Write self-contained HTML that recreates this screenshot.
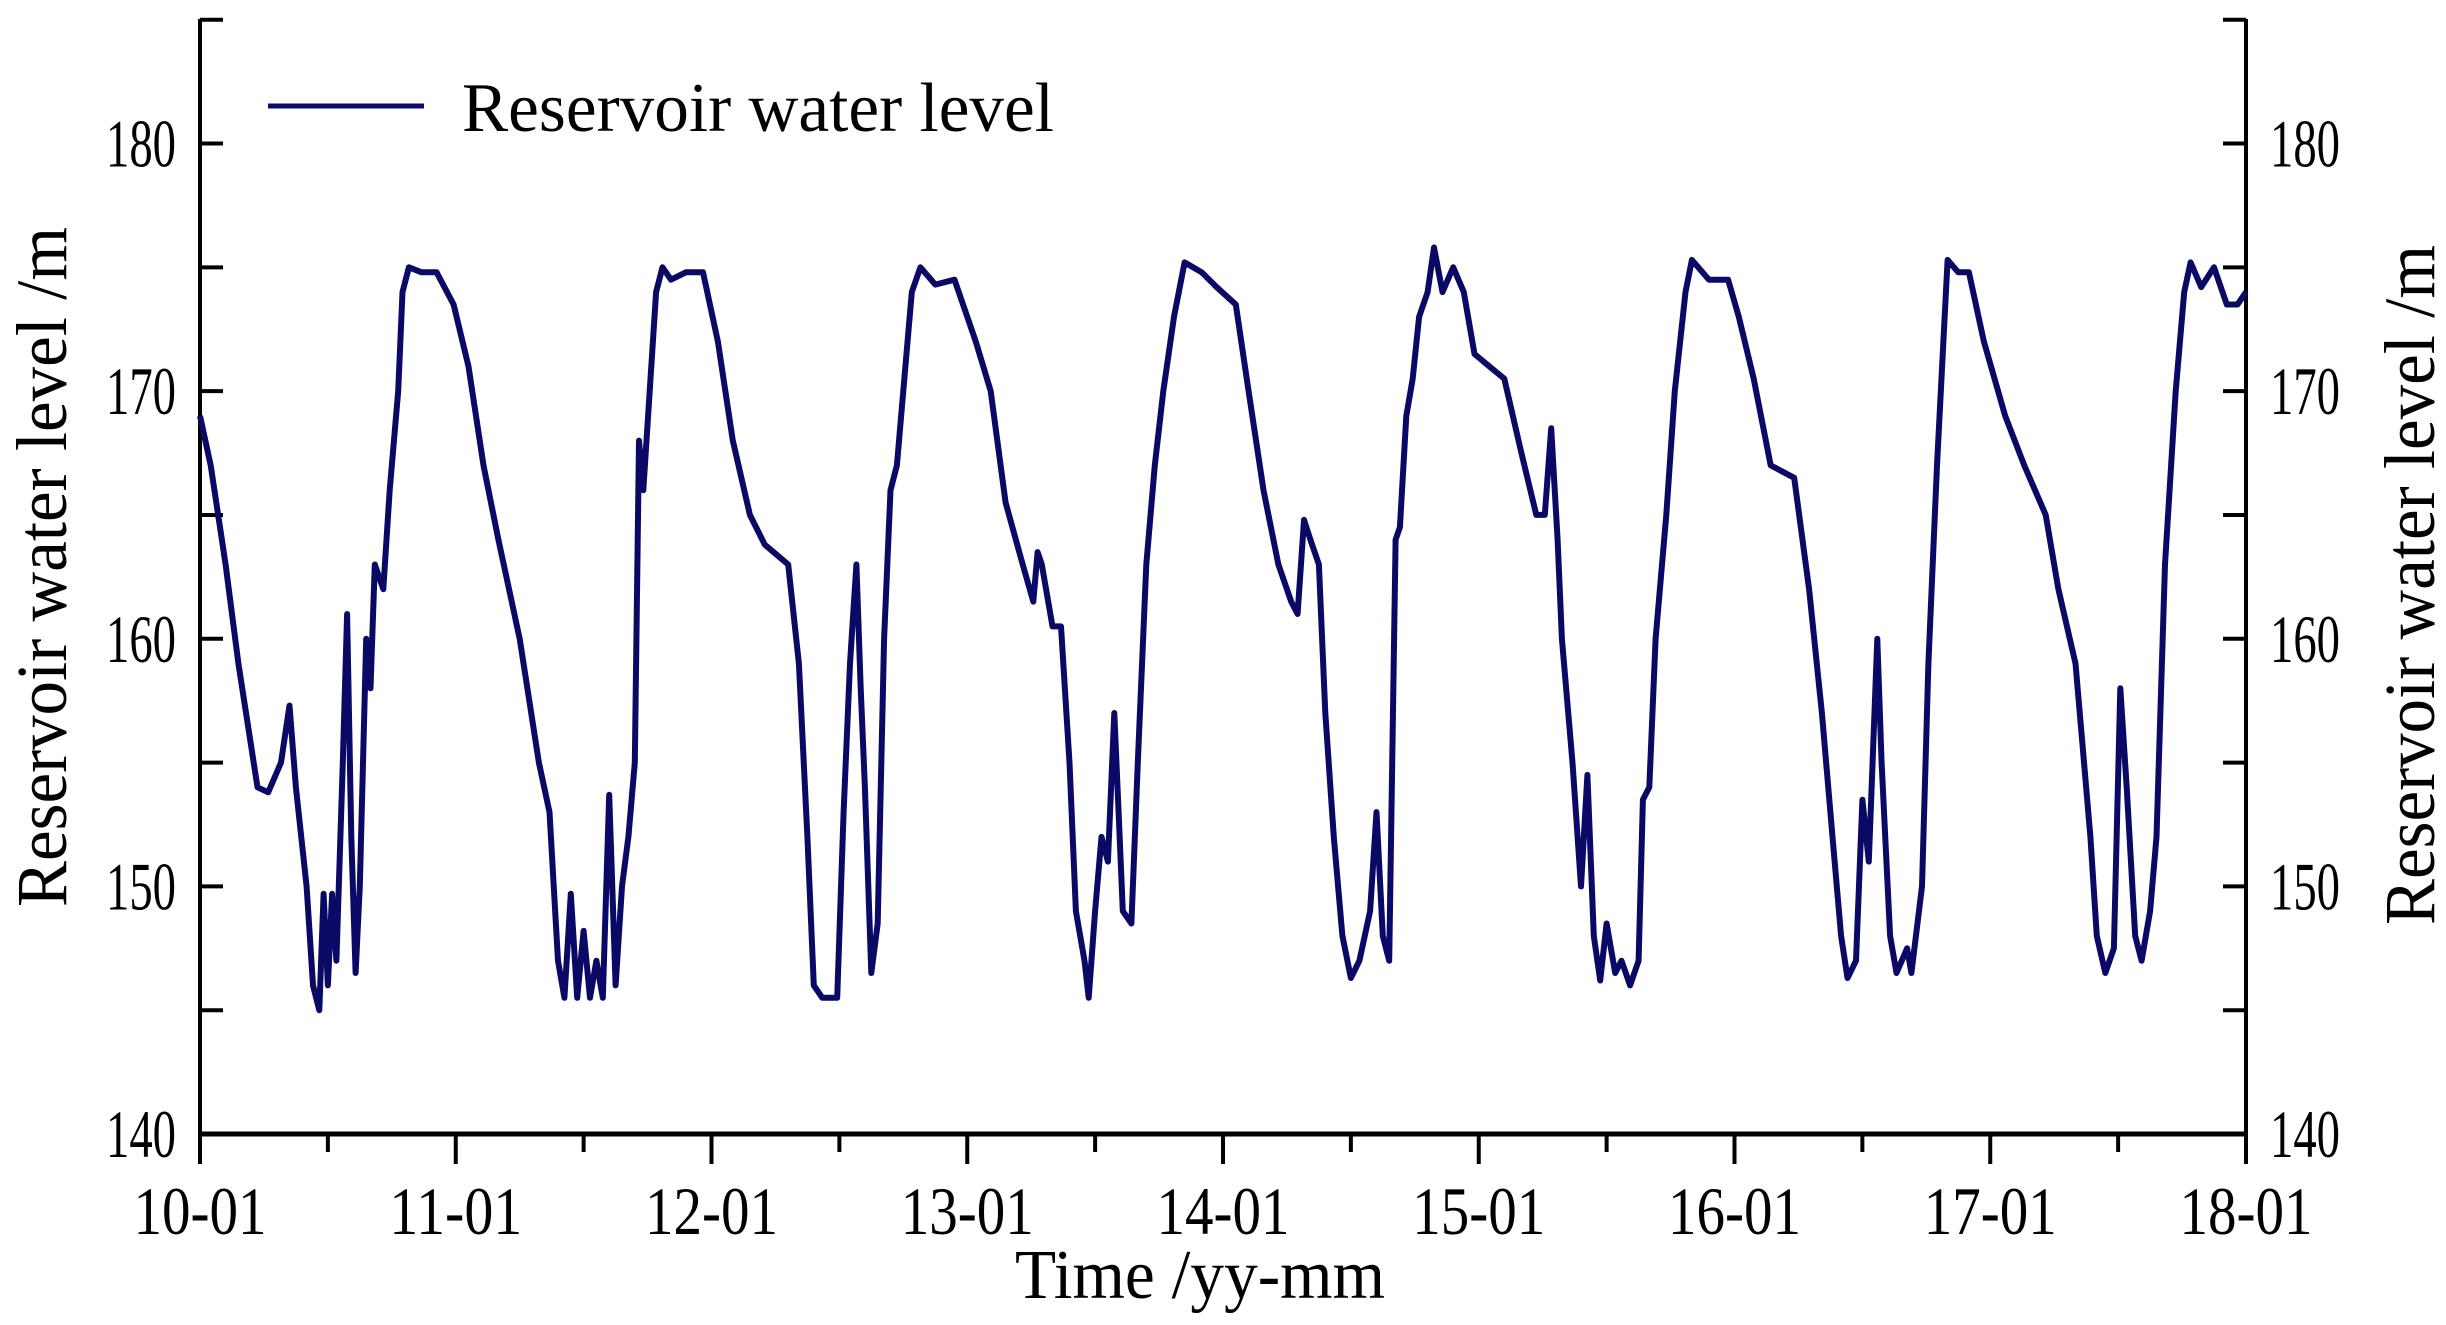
<!DOCTYPE html>
<html><head><meta charset="utf-8"><style>
html,body{margin:0;padding:0;background:#fff;}
svg{display:block;font-family:"Liberation Serif",serif;}
</style></head><body>
<svg id="chart" width="2446" height="1325" viewBox="0 0 2446 1325" xmlns="http://www.w3.org/2000/svg">
<g id="axes"></g>
<path id="series" fill="none" stroke="#0a0a66" stroke-width="6" stroke-linejoin="round"></path>
<g>
<line x1="268" y1="106" x2="424" y2="106" stroke="#0c0c70" stroke-width="5"/>
<text x="462" y="131" font-size="70" textLength="592" lengthAdjust="spacingAndGlyphs">Reservoir water level</text>
</g>
<text x="1200" y="1298" font-size="70" text-anchor="middle" textLength="370" lengthAdjust="spacingAndGlyphs">Time /yy-mm</text>
<text transform="translate(66,567) rotate(-90)" font-size="72" text-anchor="middle" textLength="680" lengthAdjust="spacingAndGlyphs">Reservoir water level /m</text>
<text transform="translate(2434,585) rotate(-90)" font-size="72" text-anchor="middle" textLength="680" lengthAdjust="spacingAndGlyphs">Reservoir water level /m</text>
</svg>
<script>
const xTickLabels=["10-01","11-01","12-01","13-01","14-01","15-01","16-01","17-01","18-01"];
const yTicks=[140,150,160,170,180];
const months=[0,0.5,1.2,1.8,2.7,3.2,3.8,4.2,4.5,5.0,5.3,5.6,5.8,6.0,6.2,6.4,6.7,6.9,7.1,7.3,7.5,7.8,8.0,8.2,8.6,8.9,9.3,9.5,9.8,10.4,11.1,11.9,
12.6,13.3,14.0,15.0,15.9,16.4,16.8,17.1,17.4,17.7,18.0,18.3,18.6,18.9,19.2,19.5,19.8,20.1,20.4,20.6,20.8,21.1,21.4,21.7,22.1,22.8,23.6,
24.3,25.0,25.8,26.5,27.6,28.1,28.5,28.8,29.2,29.9,30.2,30.5,30.8,31.0,31.2,31.5,31.8,32.1,32.4,32.7,33.1,33.4,33.8,34.5,35.4,
36.4,37.1,37.8,38.6,39.1,39.3,39.5,40.0,40.4,40.8,41.1,41.5,41.7,42.0,42.3,42.6,42.9,43.1,43.3,43.7,44.0,44.4,44.8,45.2,45.7,46.2,47.0,47.7,
48.6,49.2,49.9,50.6,51.2,51.5,51.8,52.1,52.5,52.8,53.2,53.6,54.0,54.4,54.9,55.2,55.5,55.8,56.1,56.3,56.6,56.9,57.2,57.6,57.9,58.3,58.8,59.3,59.8,
60.5,61.2,62.0,62.7,63.1,63.4,63.7,63.9,64.4,64.8,65.1,65.4,65.7,66.0,66.4,66.7,67.1,67.5,67.7,68.0,68.3,68.8,69.2,69.7,70.0,70.8,71.7,
72.2,72.9,73.7,74.8,75.5,76.1,76.6,77.0,77.3,77.7,78.0,78.3,78.7,78.9,79.3,79.6,80.1,80.3,80.8,81.1,81.5,82.0,82.5,83.0,83.7,
84.7,85.6,86.6,87.2,88.0,88.3,88.7,89.0,89.4,89.8,90.1,90.4,90.8,91.1,91.5,91.8,92.2,92.7,93.1,93.4,93.9,94.5,95.1,95.6,96.0];
const levels=[169,167,163,159,154,153.8,155,157.3,154,150,146,145,149.7,146,149.7,147,155,161,152,146.5,150,160,158,163,162,166,170,174,175,174.8,174.8,173.5,
171,167,164,160,155,153,147,145.5,149.7,145.5,148.2,145.5,147,145.5,153.7,146,150,152,155,168,166,170,174,175,174.5,174.8,174.8,
172,168,165,163.8,163,159,152,146,145.5,145.5,153,159,163,158,154,146.5,148.5,160,166,167,171,174,175,174.3,174.5,
172,170,165.5,163,161.5,163.5,163,160.5,160.5,155,149,147,145.5,149,152,151,157,153,149,148.5,155,163,167,170,173,175.2,174.8,174.2,
173.5,170,166,163,161.5,161,164.8,164,163,157,152,148,146.3,147,149,153,148,147,164,164.5,169,170.5,173,174,175.8,174,175,174,171.5,
171,170.5,167.5,165,165,168.5,164,160,155,150,154.5,148,146.2,148.5,146.5,147,146,147,153.5,154,160,165,170,174,175.3,174.5,174.5,
173,170.5,167,166.5,162,157,152,148,146.3,147,153.5,151,160,155,148,146.5,147.5,146.5,150,159,167,175.3,174.8,174.8,172,
169,167,165,162,159,156,152,148,146.5,147.5,158,154,148,147,149,152,163,170,174,175.2,174.2,175,173.5,173.5,174];
const X0=200,X1=2246,Y0=1134,YTOP=19,VMIN=140,VMAX=180,Y180=143.5;
const xScale=m=>X0+(X1-X0)*m/96;
const yScale=v=>Y0-(Y0-Y180)*(v-VMIN)/(VMAX-VMIN);
const NS="http://www.w3.org/2000/svg";
const axes=document.getElementById('axes');
function mk(tag,attrs){const e=document.createElementNS(NS,tag);for(const k in attrs)e.setAttribute(k,attrs[k]);return e;}
let l=mk('line',{x1:X0,y1:YTOP,x2:X0,y2:Y0+2,stroke:'#000','stroke-width':4});


axes.appendChild(l);
l=mk('line',{x1:X1,y1:YTOP,x2:X1,y2:Y0+2,stroke:'#000','stroke-width':4});


axes.appendChild(l);
l=mk('line',{x1:X0-2,y1:Y0,x2:X1+2,y2:Y0,stroke:'#000','stroke-width':5});


axes.appendChild(l);
for(let v=140;v<=185;v+=5){
  const y=yScale(v);
  let t=mk('line',{x1:X0,y1:y,x2:X0+23,y2:y,stroke:'#000','stroke-width':4});
  
  
  axes.appendChild(t);
  t=mk('line',{x1:X1-23,y1:y,x2:X1,y2:y,stroke:'#000','stroke-width':4});
  
  
  axes.appendChild(t);
}
yTicks.forEach(v=>{
  const y=yScale(v);
  let tx=mk('text',{x:176,y:y+23,'font-size':68,'text-anchor':'end',textLength:70,lengthAdjust:'spacingAndGlyphs'});
  tx.textContent=v;
  
  
  axes.appendChild(tx);
  tx=mk('text',{x:2270,y:y+23,'font-size':68,textLength:70,lengthAdjust:'spacingAndGlyphs'});
  tx.textContent=v;
  
  
  axes.appendChild(tx);
});
for(let i=0;i<=16;i++){
  const x=xScale(i*6);
  const major=i%2===0;
  let t=mk('line',{x1:x,y1:Y0,x2:x,y2:Y0+(major?30:18),stroke:'#000','stroke-width':4});
  
  
  axes.appendChild(t);
}
xTickLabels.forEach((s,i)=>{
  const tx=mk('text',{x:xScale(i*12),y:1234,'font-size':68,'text-anchor':'middle',textLength:133,lengthAdjust:'spacingAndGlyphs'});
  tx.textContent=s;
  
  
  axes.appendChild(tx);
});
let d='';
months.forEach((m,i)=>{d+=(i?'L':'M')+xScale(m).toFixed(1)+','+yScale(levels[i]).toFixed(1);});
document.getElementById('series').setAttribute('d',d);
</script>
</body></html>
